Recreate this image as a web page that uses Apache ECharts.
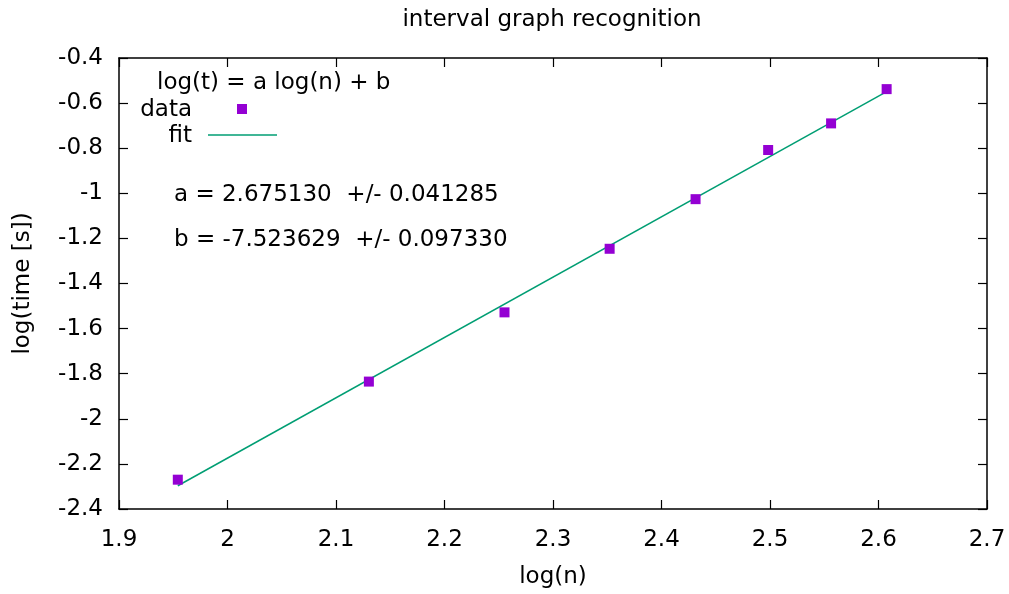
<!DOCTYPE html>
<html>
<head>
<meta charset="utf-8">
<script src="https://cdn.jsdelivr.net/npm/echarts@6/dist/echarts.min.js"></script>
<style>
  html, body { margin: 0; padding: 0; background: #fff; }
  #main { width: 1009px; height: 594px; }
</style>
</head>
<body>
<div id="main"></div>
<script type="text/javascript">
    // data: log10(n) vs log10(time)
    var logN = [1.9542, 2.1303, 2.2553, 2.3522, 2.4314, 2.4983, 2.5563, 2.6075];
    var logT = [-2.270, -1.835, -1.528, -1.246, -1.026, -0.808, -0.690, -0.538];
    // fit line end points
    var fitX = [1.9542, 2.6075];
    var fitY = [-2.297, -0.549];

    var fitText = ['a = 2.675130  +/- 0.041285', 'b = -7.523629  +/- 0.097330'];

    var FONT = 'DejaVu Sans';
    var FS = 23;
    var FONTCSS = FS + 'px "DejaVu Sans"';
    var myChart = echarts.init(document.getElementById('main'));

    var axisCommon = {
        axisLine: { show: true, onZero: false, lineStyle: { color: '#000', width: 1.5 } },
        axisTick: { show: true, inside: true, length: 9, lineStyle: { color: '#000', width: 1.2 } },
        splitLine: { show: false }
    };

    var option = {
        animation: false,
        backgroundColor: '#fff',
        grid: { left: 119, top: 58, right: 22, bottom: 84 },
        xAxis: [
            Object.assign({
                type: 'value', min: 1.9, max: 2.7, interval: 0.1,
                name: 'log(n)', nameLocation: 'middle', nameGap: 57,
                nameTextStyle: { fontFamily: FONT, fontSize: FS, color: '#000' },
                axisLabel: { fontFamily: FONT, fontSize: FS, color: '#000', margin: 20,
                    formatter: function (v) { return +v.toFixed(1) + ''; } }
            }, axisCommon),
            Object.assign({
                type: 'value', min: 1.9, max: 2.7, interval: 0.1, position: 'top',
                axisLabel: { show: false }
            }, axisCommon)
        ],
        yAxis: [
            Object.assign({
                type: 'value', min: -2.4, max: -0.4, interval: 0.2,
                name: 'log(time [s])', nameLocation: 'middle', nameGap: 84, nameRotate: 90,
                nameTextStyle: { fontFamily: FONT, fontSize: FS, color: '#000' },
                axisLabel: { fontFamily: FONT, fontSize: FS, color: '#000', margin: 16,
                    formatter: function (v) { return +v.toFixed(1) + ''; } }
            }, axisCommon),
            Object.assign({
                type: 'value', min: -2.4, max: -0.4, interval: 0.2, position: 'right',
                axisLabel: { show: false }
            }, axisCommon)
        ],
        series: [
            {
                name: 'fit',
                type: 'line',
                data: fitX.map(function (x, i) { return [x, fitY[i]]; }),
                showSymbol: false,
                lineStyle: { color: '#009E73', width: 1.5 },
                z: 2
            },
            {
                name: 'data',
                type: 'scatter',
                data: logN.map(function (x, i) { return [x, logT[i]]; }),
                symbol: 'rect',
                symbolSize: 10,
                itemStyle: { color: '#9400D3', opacity: 1 },
                z: 3
            }
        ],
        graphic: [
            { type: 'text', x: 552, y: 20, style: { text: 'interval graph recognition', font: FONTCSS, fill: '#000', align: 'center', verticalAlign: 'middle' } },
            { type: 'text', x: 157, y: 83, style: { text: 'log(t) = a log(n) + b', font: FONTCSS, fill: '#000', align: 'left', verticalAlign: 'middle' } },
            { type: 'text', x: 192, y: 110, style: { text: 'data', font: FONTCSS, fill: '#000', align: 'right', verticalAlign: 'middle' } },
            { type: 'rect', shape: { x: 237, y: 104, width: 10, height: 10 }, style: { fill: '#9400D3' } },
            { type: 'text', x: 192, y: 136, style: { text: 'fit', font: FONTCSS, fill: '#000', align: 'right', verticalAlign: 'middle' } },
            { type: 'line', shape: { x1: 208, y1: 135, x2: 277, y2: 135 }, style: { stroke: '#009E73', lineWidth: 1.5 } },
            { type: 'text', x: 174, y: 195, style: { text: fitText[0], font: FONTCSS, fill: '#000', align: 'left', verticalAlign: 'middle' } },
            { type: 'text', x: 174, y: 240, style: { text: fitText[1], font: FONTCSS, fill: '#000', align: 'left', verticalAlign: 'middle' } }
        ]
    };
    myChart.setOption(option);
</script>
</body>
</html>
